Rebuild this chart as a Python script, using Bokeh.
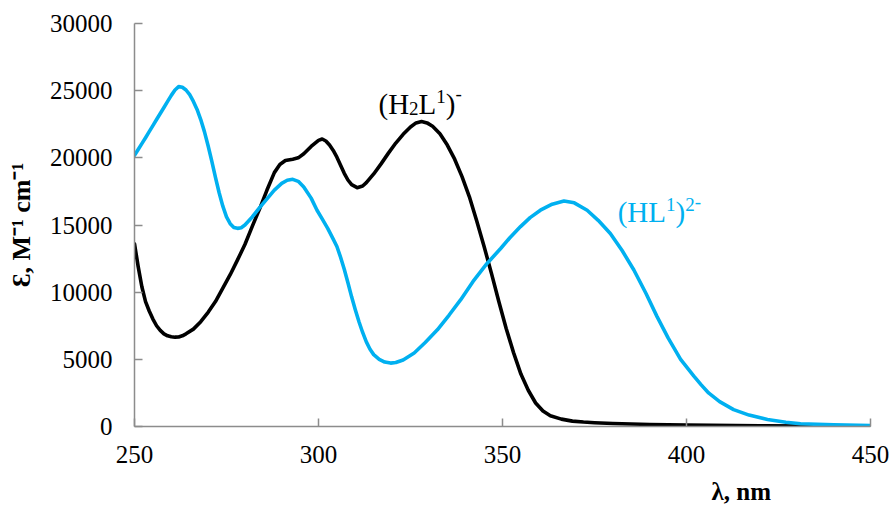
import math
from bokeh.plotting import figure
from bokeh.models import Range1d, FixedTicker, Label, Title
from bokeh.embed import file_html
from bokeh.resources import INLINE

# ---- data ----
wl_h2l = [250, 251, 252, 253, 254, 255, 256, 257, 258, 259, 260, 261, 262, 263, 264, 266, 268,
          270, 272, 274, 276, 278, 280, 282, 284, 286, 288, 289.5, 291, 293, 294.5, 296, 298,
          300, 301, 302, 303, 304, 305, 306, 307, 308, 309, 310.5, 312, 313, 315, 317, 319,
          321, 323, 325, 326.5, 328, 329.5, 331, 333, 335, 337, 339, 341, 343, 345, 347, 349,
          351, 353, 355, 357, 359, 361, 363, 366, 369, 372, 375, 380, 390, 400, 420, 450]
eps_h2l = [13600, 11900, 10400, 9300, 8600, 8000, 7500, 7150, 6900, 6750, 6680, 6650, 6660,
           6750, 6900, 7250, 7800, 8500, 9300, 10300, 11300, 12400, 13550, 14900, 16200, 17600,
           18900, 19500, 19800, 19900, 20000, 20300, 20850, 21300, 21400, 21250, 20950, 20550,
           20050, 19450, 18850, 18350, 18000, 17780, 17900, 18150, 18800, 19550, 20350, 21100,
           21750, 22300, 22600, 22700, 22600, 22350, 21800, 20950, 19900, 18600, 17100, 15300,
           13400, 11400, 9300, 7300, 5500, 3900, 2700, 1750, 1150, 800, 550, 400, 330, 280, 220,
           150, 100, 50, 20]

wl_hl = [250, 251, 252, 253, 254, 255, 256, 257, 258, 259, 260, 261, 262, 263, 264, 265, 266,
         267, 268, 269, 270, 271, 272, 273, 274, 275, 276, 277, 278, 279, 280, 282, 284, 286,
         288, 290, 291.5, 293, 294.5, 296, 298, 299.6, 301, 302.5, 304, 305, 306, 307, 308, 309,
         310, 311, 312, 313, 314, 315, 316.5, 318, 319.6, 321, 323, 326, 329, 332.3, 335.5,
         338.6, 342, 345.8, 349.5, 352, 354.9, 357.5, 360.3, 363.5, 366.7, 369.5, 373, 376,
         379.3, 382.5, 385.7, 389, 392, 395, 398.4, 402, 404, 406, 409, 412.8, 417, 422, 427,
         431, 440, 450]
eps_hl = [20180, 20620, 21060, 21500, 21950, 22400, 22850, 23300, 23750, 24200, 24650, 25050,
          25300, 25250, 25050, 24700, 24200, 23600, 22850, 21950, 20900, 19750, 18550, 17400,
          16400, 15600, 15100, 14820, 14750, 14800, 15000, 15600, 16300, 16950, 17600, 18100,
          18330, 18400, 18250, 17830, 17000, 16100, 15450, 14750, 13950, 13400, 12600, 11700,
          10700, 9650, 8700, 7800, 7000, 6300, 5750, 5350, 5000, 4800, 4720, 4760, 4950, 5470,
          6250, 7200, 8300, 9420, 10800, 12140, 13250, 14050, 14880, 15550, 16100, 16550, 16790,
          16650, 16100, 15350, 14370, 13100, 11650, 9900, 8180, 6600, 5000, 3750, 3100, 2500,
          1850, 1260, 850, 520, 320, 200, 120, 80]

x_ticks = [250, 300, 350, 400, 450]
y_ticks = [0, 5000, 10000, 15000, 20000, 25000, 30000]

x_title = "λ, nm"
y_title = "Ɛ, M⁻¹ cm⁻¹"
label_h2l = [("(H", "n"), ("2", "sub"), ("L", "n"), ("1", "sup"), (")", "n"), ("-", "supm")]
label_hl = [("(HL", "n"), ("1", "sup"), (")", "n"), ("2", "sup"), ("-", "supm")]

BLACK = "#000000"
BLUE = "#00B0F0"
AXIS_GRAY = "#8C8C8C"
SERIF = "Liberation Serif"

p = figure(width=892, height=515, output_backend="svg", toolbar_location=None,
           x_range=Range1d(250, 450), y_range=Range1d(0, 30000),
           min_border_left=134, min_border_right=22, min_border_top=23, min_border_bottom=88)
p.outline_line_color = None
p.background_fill_color = "white"
p.border_fill_color = "white"
p.xgrid.visible = False
p.ygrid.visible = False

for ax in (p.xaxis[0], p.yaxis[0]):
    ax.axis_line_color = AXIS_GRAY
    ax.axis_line_width = 1.5
    ax.major_tick_line_color = AXIS_GRAY
    ax.major_tick_line_width = 1.5
    ax.major_tick_in = 8
    ax.major_tick_out = 0
    ax.minor_tick_line_color = None
    ax.major_label_text_font = SERIF
    ax.major_label_text_font_size = "25px"
    ax.major_label_text_color = BLACK

p.xaxis[0].ticker = FixedTicker(ticks=x_ticks)
p.yaxis[0].ticker = FixedTicker(ticks=y_ticks)
p.xaxis[0].major_label_standoff = 19
p.yaxis[0].major_label_standoff = 22

p.yaxis[0].axis_label = y_title
p.yaxis[0].axis_label_text_font = SERIF
p.yaxis[0].axis_label_text_font_size = "26px"
p.yaxis[0].axis_label_text_font_style = "bold"
p.yaxis[0].axis_label_text_color = BLACK
p.yaxis[0].axis_label_standoff = 11

p.add_layout(Title(text=x_title, align="left", offset=577, text_font=SERIF,
                   text_font_size="25px", text_font_style="bold", text_color=BLACK,
                   standoff=21), "below")

p.line(wl_h2l, eps_h2l, line_color=BLACK, line_width=3.6, line_join="round", line_cap="round")
p.line(wl_hl, eps_hl, line_color=BLUE, line_width=3.6, line_join="round", line_cap="round")

# rich-text series labels
W = {"(": 0.333, ")": 0.333, "H": 0.722, "L": 0.611, "-": 0.333}
MAIN, SMALL = 29, 19
RAISE = {"n": 0, "sub": -5, "sup": 7, "supm": 10}


def add_rich(x, y, segs, color):
    off = 0.0
    for txt, kind in segs:
        size = MAIN if kind == "n" else SMALL
        p.add_layout(Label(x=x, y=y, x_offset=off, y_offset=RAISE[kind], text=txt,
                           text_font=SERIF, text_font_size=f"{size}px", text_color=color,
                           text_align="left", text_baseline="alphabetic"))
        off += sum(W.get(c, 0.5) for c in txt) * size


add_rich(316.3, 24010, label_h2l, BLACK)
add_rich(381.3, 15970, label_hl, BLUE)

open("out.html", "w").write(file_html(p, INLINE))
